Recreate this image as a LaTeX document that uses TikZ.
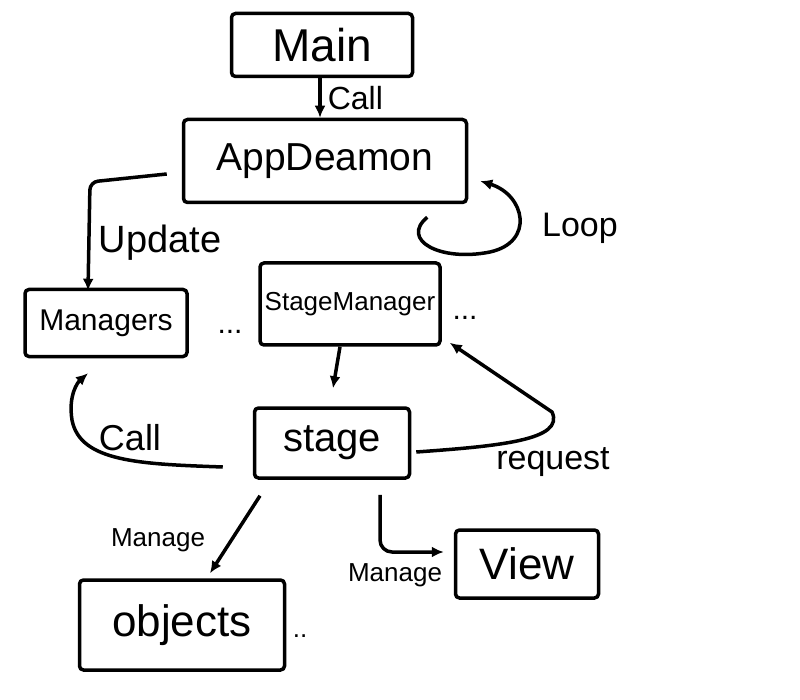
\documentclass[tikz,border=0pt]{standalone}
\usepackage{fontspec}
\setmainfont{Liberation Sans}
\usetikzlibrary{arrows.meta}

\begin{document}
\begin{tikzpicture}[
  x=1pt, y=-1pt,
  box/.style={draw, line width=3.5pt, rounded corners=4pt, align=center, inner sep=0pt},
  flow/.style={-{Latex[length=12pt,width=11pt]}, line width=3.5pt},
  lbl/.style={inner sep=0pt}
]
\useasboundingbox (0,0) rectangle (800,700);

\node[box, minimum width=181pt, minimum height=63pt, font=\fontsize{46}{48}\selectfont] (main) at (322,45) {Main};
\node[box, minimum width=283pt, minimum height=83pt, font=\fontsize{39}{41}\selectfont] (app) at (325,161) {AppDeamon};
\node[box, minimum width=162pt, minimum height=67pt, font=\fontsize{30}{32}\selectfont] (managers) at (106,323) {Managers};
\node[box, minimum width=180pt, minimum height=82pt, font=\fontsize{26}{28}\selectfont] (stmgr) at (350,304) {StageManager};
\node[box, minimum width=155pt, minimum height=70pt, font=\fontsize{40}{42}\selectfont] (stage) at (332,443) {stage};
\node[box, minimum width=143pt, minimum height=68pt, font=\fontsize{44}{46}\selectfont] (view) at (527,564) {View};
\node[box, minimum width=205pt, minimum height=90pt, font=\fontsize{44}{46}\selectfont] (objects) at (182,625) {objects};

% dots after boxes
\node[lbl, font=\fontsize{30}{32}\selectfont] (dotsa) at (230,332) {...};
\node[lbl, font=\fontsize{30}{32}\selectfont] (dotsb) at (465,318) {...};
\node[lbl, font=\fontsize{26}{28}\selectfont] (dotsc) at (300,636) {..};

\draw[flow] ([xshift=-2pt]main.south) -- ([xshift=-5pt]app.north)
  node[lbl, midway, right=6pt, font=\fontsize{32}{34}\selectfont] {Call};

\draw[flow, rounded corners=8pt] ([shift={(-15,13)}]app.west) -- (90,182) -- ([xshift=-18pt,yshift=-3pt]managers.north);
\node[lbl, font=\fontsize{38}{40}\selectfont] (upd) at (160,243) {Update};

\draw[flow] ([shift={(-41,13)}]app.south east) .. controls (400,240) and (440,262) .. (490,252)
  .. controls (535,242) and (525,195) .. ([shift={(12,20)}]app.east);
\node[lbl, font=\fontsize{34}{36}\selectfont] (loop) at (580,228) {Loop};

\draw[flow] ([xshift=-10pt]stmgr.south) -- ([shift={(1,-18)}]stage.north);

\draw[flow] ([shift={(-30,24)}]stage.west) .. controls (140,464) and (80,462) .. (72,420)
  .. controls (68,395) and (78,382) .. ([shift={(-18,15)}]managers.south);
\node[lbl, font=\fontsize{36}{38}\selectfont] (call) at (130,438) {Call};

\draw[flow] ([shift={(5,9)}]stage.east) .. controls (500,446) and (565,440) .. (552,412)
  -- ([shift={(8,-4)}]stmgr.south east);
\node[lbl, font=\fontsize{34}{36}\selectfont] (req) at (553,462) {request};

\draw[flow] ([shift={(-72,16)}]stage.south) -- ([shift={(28,-5)}]objects.north);
\node[lbl, font=\fontsize{26}{28}\selectfont] (mga) at (158,540) {Manage};

\draw[flow, rounded corners=12pt] ([shift={(48,15)}]stage.south) |- ([shift={(-10,-12)}]view.west);
\node[lbl, font=\fontsize{26}{28}\selectfont] (mgb) at (395,575) {Manage};
\end{tikzpicture}
\end{document}
